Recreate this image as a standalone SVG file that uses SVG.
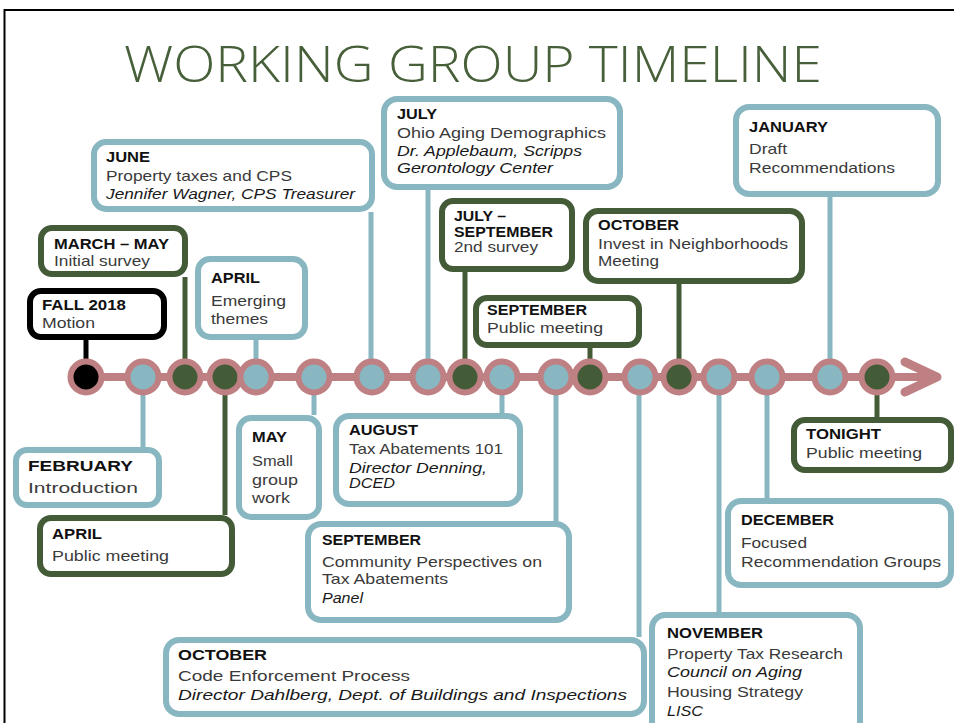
<svg xmlns="http://www.w3.org/2000/svg" width="954" height="723" viewBox="0 0 954 723">
<style>
.bx{fill:#fff;stroke-width:6}
.bl{stroke:#88B7C2}
.gr{stroke:#435B37}
.bk{stroke:#000}
.c{stroke-width:5;fill:none}
.h{font-family:"Liberation Sans",Arial,sans-serif;font-weight:bold;font-size:14.5px;fill:#111}
.t{font-family:"Liberation Sans",Arial,sans-serif;font-size:14.5px;fill:#3a3a3a}
.i{font-family:"Liberation Sans",Arial,sans-serif;font-size:14.5px;font-style:italic;fill:#1a1a1a}
.dot{stroke:#BF8083;stroke-width:6}
</style>
<rect width="954" height="723" fill="#fff"/>
<path d="M4.5,723 V10 H954" fill="none" stroke="#000" stroke-width="2"/>
<text x="124" y="82" font-family="'Open Sans','Liberation Sans',sans-serif" font-weight="300" font-size="50" fill="#47603A" textLength="698" lengthAdjust="spacingAndGlyphs">WORKING GROUP TIMELINE</text>

<g id="connectors">
<line class="c" stroke="#000" x1="86" y1="340" x2="86" y2="377"/>
<line class="c" stroke="#435B37" x1="185" y1="277" x2="185" y2="377"/>
<line class="c" stroke="#88B7C2" x1="256" y1="340" x2="256" y2="377"/>
<line class="c" stroke="#88B7C2" x1="371" y1="212" x2="371" y2="377"/>
<line class="c" stroke="#88B7C2" x1="428" y1="190" x2="428" y2="377"/>
<line class="c" stroke="#435B37" x1="465" y1="272" x2="465" y2="377"/>
<line class="c" stroke="#435B37" x1="590" y1="348" x2="590" y2="377"/>
<line class="c" stroke="#435B37" x1="679" y1="284" x2="679" y2="377"/>
<line class="c" stroke="#88B7C2" x1="830" y1="197" x2="830" y2="377"/>
<line class="c" stroke="#88B7C2" x1="143" y1="377" x2="143" y2="447"/>
<line class="c" stroke="#435B37" x1="225" y1="377" x2="225" y2="515"/>
<line class="c" stroke="#88B7C2" x1="314" y1="377" x2="314" y2="415"/>
<line class="c" stroke="#88B7C2" x1="502" y1="377" x2="502" y2="413"/>
<line class="c" stroke="#88B7C2" x1="556" y1="377" x2="556" y2="521"/>
<line class="c" stroke="#88B7C2" x1="639" y1="377" x2="639" y2="637"/>
<line class="c" stroke="#88B7C2" x1="719" y1="377" x2="719" y2="612"/>
<line class="c" stroke="#88B7C2" x1="767" y1="377" x2="767" y2="498"/>
<line class="c" stroke="#435B37" x1="877" y1="377" x2="877" y2="417"/>
</g>

<g id="timeline">
<line x1="72" y1="377" x2="934" y2="377" stroke="#BF8083" stroke-width="8"/>
<polyline points="905,362 937,377 905,392" fill="none" stroke="#BF8083" stroke-width="9" stroke-linecap="round" stroke-linejoin="round"/>
<circle class="dot" cx="86" cy="377" r="15.5" fill="#000"/>
<circle class="dot" cx="143" cy="377" r="15.5" fill="#88B7C2"/>
<circle class="dot" cx="185" cy="377" r="15.5" fill="#435B37"/>
<circle class="dot" cx="225" cy="377" r="15.5" fill="#435B37"/>
<circle class="dot" cx="256" cy="377" r="15.5" fill="#88B7C2"/>
<circle class="dot" cx="314" cy="377" r="15.5" fill="#88B7C2"/>
<circle class="dot" cx="372" cy="377" r="15.5" fill="#88B7C2"/>
<circle class="dot" cx="428" cy="377" r="15.5" fill="#88B7C2"/>
<circle class="dot" cx="465" cy="377" r="15.5" fill="#435B37"/>
<circle class="dot" cx="502" cy="377" r="15.5" fill="#88B7C2"/>
<circle class="dot" cx="556" cy="377" r="15.5" fill="#88B7C2"/>
<circle class="dot" cx="590" cy="377" r="15.5" fill="#435B37"/>
<circle class="dot" cx="640" cy="377" r="15.5" fill="#88B7C2"/>
<circle class="dot" cx="679" cy="377" r="15.5" fill="#435B37"/>
<circle class="dot" cx="719" cy="377" r="15.5" fill="#88B7C2"/>
<circle class="dot" cx="767" cy="377" r="15.5" fill="#88B7C2"/>
<circle class="dot" cx="830" cy="377" r="15.5" fill="#88B7C2"/>
<circle class="dot" cx="877" cy="377" r="15.5" fill="#435B37"/>
</g>

<g id="fall2018">
<rect class="bx bk" x="30" y="291" width="134" height="46" rx="11" stroke-width="6.5"/>
<text class="h" x="42" y="310" textLength="84" lengthAdjust="spacingAndGlyphs">FALL 2018</text>
<text class="t" x="42" y="328" textLength="53" lengthAdjust="spacingAndGlyphs">Motion</text>
</g>
<g id="march-may">
<rect class="bx gr" x="41" y="228" width="144" height="46" rx="11"/>
<text class="h" x="54" y="249" textLength="115" lengthAdjust="spacingAndGlyphs">MARCH – MAY</text>
<text class="t" x="54" y="266" textLength="96" lengthAdjust="spacingAndGlyphs">Initial survey</text>
</g>
<g id="april-themes">
<rect class="bx bl" x="198" y="259" width="107" height="78" rx="12"/>
<text class="h" x="211" y="283" textLength="49" lengthAdjust="spacingAndGlyphs">APRIL</text>
<text class="t" x="211" y="306" textLength="75" lengthAdjust="spacingAndGlyphs">Emerging</text>
<text class="t" x="211" y="324" textLength="57" lengthAdjust="spacingAndGlyphs">themes</text>
</g>
<g id="june">
<rect class="bx bl" x="94" y="142" width="278" height="67" rx="12"/>
<text class="h" x="106" y="162" textLength="44" lengthAdjust="spacingAndGlyphs">JUNE</text>
<text class="t" x="106" y="181" textLength="186" lengthAdjust="spacingAndGlyphs">Property taxes and CPS</text>
<text class="i" x="106" y="199" textLength="249" lengthAdjust="spacingAndGlyphs">Jennifer Wagner, CPS Treasurer</text>
</g>
<g id="july">
<rect class="bx bl" x="384" y="99" width="236" height="88" rx="13"/>
<text class="h" x="397" y="119" textLength="40" lengthAdjust="spacingAndGlyphs">JULY</text>
<text class="t" x="397" y="138" textLength="209" lengthAdjust="spacingAndGlyphs">Ohio Aging Demographics</text>
<text class="i" x="397" y="156" textLength="185" lengthAdjust="spacingAndGlyphs">Dr. Applebaum, Scripps</text>
<text class="i" x="397" y="173" textLength="156" lengthAdjust="spacingAndGlyphs">Gerontology Center</text>
</g>
<g id="july-september">
<rect class="bx gr" x="442" y="201" width="130" height="68" rx="11"/>
<text class="h" x="454" y="221" textLength="52" lengthAdjust="spacingAndGlyphs">JULY –</text>
<text class="h" x="454" y="237" textLength="99" lengthAdjust="spacingAndGlyphs">SEPTEMBER</text>
<text class="t" x="454" y="252" textLength="84" lengthAdjust="spacingAndGlyphs">2nd survey</text>
</g>
<g id="september-public">
<rect class="bx gr" x="476" y="298" width="163" height="47" rx="11"/>
<text class="h" x="487" y="315" textLength="100" lengthAdjust="spacingAndGlyphs">SEPTEMBER</text>
<text class="t" x="487" y="333" textLength="116" lengthAdjust="spacingAndGlyphs">Public meeting</text>
</g>
<g id="october-invest">
<rect class="bx gr" x="586" y="211" width="216" height="70" rx="12"/>
<text class="h" x="598" y="230" textLength="81" lengthAdjust="spacingAndGlyphs">OCTOBER</text>
<text class="t" x="598" y="249" textLength="190" lengthAdjust="spacingAndGlyphs">Invest in Neighborhoods</text>
<text class="t" x="598" y="266" textLength="61" lengthAdjust="spacingAndGlyphs">Meeting</text>
</g>
<g id="january">
<rect class="bx bl" x="736" y="107" width="202" height="87" rx="13"/>
<text class="h" x="749" y="132" textLength="79" lengthAdjust="spacingAndGlyphs">JANUARY</text>
<text class="t" x="749" y="154" textLength="38" lengthAdjust="spacingAndGlyphs">Draft</text>
<text class="t" x="749" y="173" textLength="146" lengthAdjust="spacingAndGlyphs">Recommendations</text>
</g>
<g id="february">
<rect class="bx bl" x="16" y="450" width="143" height="55" rx="11"/>
<text class="h" x="28" y="471" font-size="17.5" textLength="105" lengthAdjust="spacingAndGlyphs">FEBRUARY</text>
<text class="t" x="28" y="493" font-size="17.5" textLength="110" lengthAdjust="spacingAndGlyphs">Introduction</text>
</g>
<g id="april-public">
<rect class="bx gr" x="40" y="518" width="192" height="56" rx="11"/>
<text class="h" x="52" y="539" textLength="50" lengthAdjust="spacingAndGlyphs">APRIL</text>
<text class="t" x="52" y="561" textLength="117" lengthAdjust="spacingAndGlyphs">Public meeting</text>
</g>
<g id="may">
<rect class="bx bl" x="239" y="418" width="80" height="99" rx="12"/>
<text class="h" x="252" y="442" textLength="35" lengthAdjust="spacingAndGlyphs">MAY</text>
<text class="t" x="252" y="466" textLength="41" lengthAdjust="spacingAndGlyphs">Small</text>
<text class="t" x="252" y="485" textLength="46" lengthAdjust="spacingAndGlyphs">group</text>
<text class="t" x="252" y="503" textLength="38" lengthAdjust="spacingAndGlyphs">work</text>
</g>
<g id="august">
<rect class="bx bl" x="336" y="416" width="184" height="88" rx="13"/>
<text class="h" x="349" y="435" textLength="69" lengthAdjust="spacingAndGlyphs">AUGUST</text>
<text class="t" x="349" y="454" textLength="154" lengthAdjust="spacingAndGlyphs">Tax Abatements 101</text>
<text class="i" x="349" y="473" textLength="138" lengthAdjust="spacingAndGlyphs">Director Denning,</text>
<text class="i" x="349" y="488" textLength="46" lengthAdjust="spacingAndGlyphs">DCED</text>
</g>
<g id="september-community">
<rect class="bx bl" x="308" y="524" width="261" height="96" rx="13"/>
<text class="h" x="322" y="545" textLength="99" lengthAdjust="spacingAndGlyphs">SEPTEMBER</text>
<text class="t" x="322" y="567" textLength="220" lengthAdjust="spacingAndGlyphs">Community Perspectives on</text>
<text class="t" x="322" y="584" textLength="126" lengthAdjust="spacingAndGlyphs">Tax Abatements</text>
<text class="i" x="322" y="603" textLength="41" lengthAdjust="spacingAndGlyphs">Panel</text>
</g>
<g id="october-code">
<rect class="bx bl" x="166" y="640" width="478" height="74" rx="13"/>
<text class="h" x="178" y="660" textLength="89" lengthAdjust="spacingAndGlyphs">OCTOBER</text>
<text class="t" x="178" y="681" textLength="232" lengthAdjust="spacingAndGlyphs">Code Enforcement Process</text>
<text class="i" x="178" y="700" textLength="449" lengthAdjust="spacingAndGlyphs">Director Dahlberg, Dept. of Buildings and Inspections</text>
</g>
<g id="november">
<rect class="bx bl" x="652" y="615" width="208" height="120" rx="13"/>
<text class="h" x="667" y="638" textLength="96" lengthAdjust="spacingAndGlyphs">NOVEMBER</text>
<text class="t" x="667" y="659" textLength="176" lengthAdjust="spacingAndGlyphs">Property Tax Research</text>
<text class="i" x="667" y="677" textLength="135" lengthAdjust="spacingAndGlyphs">Council on Aging</text>
<text class="t" x="667" y="697" textLength="136" lengthAdjust="spacingAndGlyphs">Housing Strategy</text>
<text class="i" x="667" y="716" textLength="36" lengthAdjust="spacingAndGlyphs">LISC</text>
</g>
<g id="december">
<rect class="bx bl" x="728" y="501" width="223" height="84" rx="13"/>
<text class="h" x="741" y="525" textLength="93" lengthAdjust="spacingAndGlyphs">DECEMBER</text>
<text class="t" x="741" y="548" textLength="66" lengthAdjust="spacingAndGlyphs">Focused</text>
<text class="t" x="741" y="567" textLength="200" lengthAdjust="spacingAndGlyphs">Recommendation Groups</text>
</g>
<g id="tonight">
<rect class="bx gr" x="794" y="420" width="157" height="50" rx="11"/>
<text class="h" x="806" y="439" textLength="75" lengthAdjust="spacingAndGlyphs">TONIGHT</text>
<text class="t" x="806" y="458" textLength="116" lengthAdjust="spacingAndGlyphs">Public meeting</text>
</g>
</svg>
